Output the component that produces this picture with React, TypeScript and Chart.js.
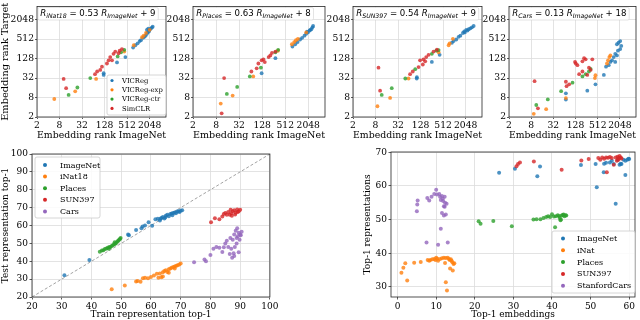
import React, { useEffect, useRef } from "react";
import { Chart, registerables } from "chart.js";

Chart.register(...registerables);

const SERIF = "'DejaVu Serif', serif";
const SANS = "'DejaVu Sans', sans-serif";

// ---------------- data ----------------
type Pt = [number, number];

const rankTicks = [2, 8, 32, 128, 512, 2048];
const methodNames = ["VICReg", "VICReg-exp", "VICReg-ctr", "SimCLR"];
const eqTargets = ["iNat18", "Places", "SUN397", "Cars"];
const eqSlopes = ["0.53", "0.63", "0.54", "0.13"];
const eqIntercepts = ["9", "8", "9", "18"];

// [ImageNet embedding rank, target embedding rank]
const inatVICReg: Pt[] = [[740, 280], [850, 330], [980, 378], [1110, 445], [1200, 475], [1360, 560], [1480, 600], [1600, 655], [1730, 750], [1810, 820], [1960, 880], [2048, 990], [2200, 1080], [2350, 1160], [2470, 1240], [1730, 990], [1880, 1080], [275, 97], [460, 142], [121, 45], [121, 40]];
const inatVICRegExp: Pt[] = [[5.8, 7.2], [21, 12.4], [76, 30], [430, 210], [770, 330], [1280, 585], [1420, 655], [1630, 790], [2048, 990]];
const inatVICRegCtr: Pt[] = [[14, 9.6], [24, 16.3], [53, 32], [286, 149], [352, 199], [430, 238]];
const inatSimCLR: Pt[] = [[10.3, 30], [12, 15.6], [71, 42], [81, 51], [98, 57], [109, 72], [148, 90], [164, 113], [181, 142], [222, 179], [247, 210], [304, 187], [324, 225], [372, 251], [202, 113]];

const placesVICReg: Pt[] = [[790, 302], [935, 355], [1080, 415], [1250, 497], [1420, 560], [1630, 655], [1810, 750], [2000, 820], [2220, 940], [2470, 1030], [2630, 1180], [2740, 1300], [2300, 990], [1900, 870], [124, 45], [284, 132]];
const placesVICRegExp: Pt[] = [[10.6, 5.2], [21.7, 9.2], [75, 36], [765, 355], [880, 415], [975, 475], [1810, 820], [330, 223], [1100, 520]];
const placesVICRegCtr: Pt[] = [[15.3, 10.3], [28.5, 17], [61, 36], [119, 67], [284, 199], [335, 238]];
const placesSimCLR: Pt[] = [[13, 32], [11.2, 2.6], [67, 51], [92, 64], [102, 90], [124, 113], [138, 121], [189, 142], [209, 160], [231, 191], [284, 210], [150, 100]];

const sunVICReg: Pt[] = [[880, 395], [975, 445], [1150, 497], [1330, 600], [1480, 655], [1730, 790], [1880, 880], [2130, 990], [2470, 1030], [2740, 1100], [3020, 1180], [3350, 1300], [1950, 820], [2300, 940], [102, 34], [101, 31], [256, 101], [413, 167]];
const sunVICRegExp: Pt[] = [[9, 4.3], [19.6, 7.8], [61, 31], [720, 330], [765, 378], [935, 522], [388, 199]];
const sunVICRegCtr: Pt[] = [[11.7, 9.6], [21.7, 15.6], [50, 31], [92, 60], [256, 179], [335, 225], [388, 234]];
const sunSimCLR: Pt[] = [[9.6, 67], [10.6, 13], [67, 42], [79, 51], [113, 70], [124, 113], [153, 121], [181, 142], [209, 167], [147, 84], [284, 210], [350, 240], [170, 105]];

const carsVICReg: Pt[] = [[1700, 355], [1880, 395], [2090, 445], [2230, 315], [2090, 251], [1810, 225], [1530, 179], [1390, 142], [1250, 113], [1130, 101], [1020, 80], [860, 72], [1530, 101], [1700, 160], [750, 40], [445, 20.5], [267, 13], [70, 10.8], [70, 6.9]];
const carsVICRegExp: Pt[] = [[9.4, 2.5], [20.4, 3.5], [70, 7.7], [445, 39], [430, 32], [915, 90], [975, 113], [1060, 142], [1130, 160]];
const carsVICRegCtr: Pt[] = [[11, 4.7], [22.6, 7], [52, 12.6], [106, 23], [197, 36], [241, 42], [296, 51], [328, 61]];
const carsSimCLR: Pt[] = [[9.9, 25.7], [12.2, 3.7], [70, 24.6], [73, 18], [86, 20.5], [124, 101], [130, 90], [144, 80], [197, 105], [218, 132], [241, 121], [365, 121], [296, 67], [328, 57], [267, 40], [160, 42], [197, 51]];

// bottom-left: [train top-1, test top-1]
const accTicks = [20, 30, 40, 50, 60, 70, 80, 90, 100];
const trainTestLabels = ["ImageNet", "iNat18", "Places", "SUN397", "Cars"];
const diagonal: Pt[] = [[20, 20], [100, 100]];
const ttImageNet: Pt[] = [[30.9, 32.1], [39.3, 40.7], [52.3, 55], [52.6, 54.5], [55, 57.5], [56.8, 58.5], [57.2, 59.5], [58, 60], [59.2, 61.8], [60.4, 59.8], [61.5, 63.5], [62.3, 63.8], [63, 62.8], [63.5, 64.2], [64, 64.8], [64.5, 63.9], [65, 65.5], [65.5, 66], [66, 65.2], [66.5, 66.5], [67, 66.7], [67.5, 67], [68, 67.3], [68.4, 66.8], [68.8, 67.8], [69.2, 68], [69.6, 67.5], [70, 68.3], [70.5, 68.5], [67.2, 65.8], [64.8, 64.5], [63.2, 63.8]];
const ttINat: Pt[] = [[46.8, 24.3], [51.2, 26.5], [55, 28.7], [55.5, 29], [56.5, 28.5], [57.3, 30.5], [58, 30.8], [59, 30.5], [60, 31.2], [61, 32], [62, 33], [63, 33.2], [63.5, 31], [64, 33.8], [64.5, 34.5], [65, 35], [65.5, 34], [66, 35.5], [66.5, 36], [67, 36.3], [67.5, 36.8], [68, 37], [68.5, 37.5], [69, 37.8], [69.5, 38.2], [70, 38.7], [64, 31.5], [62.5, 30.8], [66, 33.5], [68, 36]];
const ttPlaces: Pt[] = [[42.8, 45.3], [43.5, 46], [44, 46.2], [44.5, 46.8], [45, 47.2], [45.5, 47.5], [46, 48], [46.3, 47.8], [46.8, 48.5], [47.2, 49], [47.6, 49.5], [48, 49.8], [48.3, 50.2], [48.7, 51], [49, 51.5], [49.3, 52], [49.6, 52.5], [49.8, 53], [45.8, 47], [47.8, 50.6]];
const ttSUN: Pt[] = [[80.2, 61.8], [81.5, 64], [83, 63.5], [84, 65], [85, 67], [86, 67.5], [86.5, 66], [87, 66.8], [87.5, 68], [88, 68.5], [88.5, 67.2], [89, 69], [89.5, 68], [90, 68.8], [85.5, 66], [87.2, 65.5], [88.3, 66.2], [89.2, 67.5], [86.8, 68.8], [84.5, 66.5]];
const ttCars: Pt[] = [[74.5, 39.5], [78, 41], [78.5, 40], [80, 43.5], [81, 47], [82, 48], [83, 47.5], [84, 45.2], [85, 50], [85.5, 51.5], [86, 48], [86.5, 44], [87, 47], [87.3, 42], [87.5, 52], [88, 55], [88.2, 48], [88.5, 57], [88.8, 53], [89, 58.5], [89.2, 54], [89.5, 56], [89.8, 52], [90, 55], [90.2, 54.5], [88, 43], [87.8, 44.5], [89.5, 45], [86.7, 53], [84.5, 47.8], [88.8, 50], [90.5, 56.5]];

// bottom-right: [top-1 embeddings, top-1 representations]
const embTicks = [0, 10, 20, 30, 40, 50, 60];
const repTicks = [30, 40, 50, 60, 70];
const embRepLabels = ["ImageNet", "iNat", "Places", "SUN397", "StanfordCars"];
const erImageNet: Pt[] = [[26.3, 63.9], [30.4, 65.1], [36.2, 62.9], [36.9, 65.8], [47.5, 66.2], [51.3, 66.5], [51.6, 59.6], [53.4, 64.1], [53.5, 66.6], [54, 66.9], [55, 67], [55.5, 67.5], [56, 66.5], [56.5, 54.7], [57, 67.8], [57.5, 66.3], [58, 66.5], [58.5, 67.8], [59, 63.3], [59, 67.5], [59.5, 67.8], [60, 68], [59.8, 68.1], [57.8, 66.6]];
const erINat: Pt[] = [[1, 34.2], [1.5, 35.7], [2, 37], [2.5, 31.9], [4.3, 37.2], [6, 37.4], [7.8, 38], [8.2, 37.8], [8.5, 38], [9, 38.2], [9.5, 38.3], [10, 38.7], [10.3, 38.4], [10.5, 37.8], [11, 38.3], [11.5, 38.5], [12, 38.7], [12.3, 37.1], [12.5, 31.4], [12.8, 28.9], [13, 38.7], [13.3, 38.3], [13.6, 35.5], [13.8, 38.2], [14, 37.8], [14.2, 37.3], [14.3, 34.9], [14.5, 36.8], [14.7, 37], [12.5, 38.6], [13.5, 38], [9.8, 38]];
const erPlaces: Pt[] = [[21, 49.5], [21.5, 48.8], [24.8, 49.6], [29.6, 48], [35.2, 50], [36, 50.1], [37, 50.1], [37.8, 50.5], [38.5, 50.8], [39, 51], [39.5, 50.8], [40, 51.6], [40.5, 50.9], [40.8, 47.7], [41, 51], [41.5, 51.3], [42, 50.5], [42.3, 50], [42.5, 51.2], [42.8, 51.4], [43, 51.5], [43.2, 51], [43.5, 51.3], [43.7, 51.2], [42.2, 49.8], [41.8, 51.1]];
const erSUN: Pt[] = [[30.8, 65.9], [31.2, 66.5], [31.7, 67], [35.3, 67.3], [42.5, 64.8], [47.6, 67.6], [49.5, 68], [52, 68.3], [52.5, 67.8], [53, 68.5], [53.5, 68.1], [54, 68.5], [54.2, 64.1], [54.5, 68.4], [55, 68.6], [55.5, 68.3], [56, 66.3], [56.5, 68.5], [57, 68.7], [57.3, 68.3], [57.5, 68.9], [57.8, 68.5], [58, 68.2], [56.8, 67.5], [57.2, 67.8]];
const erCars: Pt[] = [[5, 52.5], [5.1, 54.5], [5.2, 55.7], [7.5, 43.2], [7.7, 56.4], [8.2, 55.7], [8.8, 56.8], [9.5, 57.6], [10, 58.9], [10.2, 57.5], [10.5, 42.5], [10.8, 57.6], [11, 56.8], [11.2, 47.3], [11.2, 55.8], [11.5, 52], [11.5, 57], [11.8, 55.5], [12, 54], [12, 51.2], [12.2, 56.8], [12.3, 55], [12.5, 51.5], [12.7, 54.7], [12.2, 53.8], [13, 43.2], [11.7, 56.2]];

// ---------------- styling ----------------
const TAB = ["rgba(31,119,180,0.8)", "rgba(255,127,14,0.8)", "rgba(44,160,44,0.8)", "rgba(214,39,40,0.8)", "rgba(148,103,189,0.8)"];
const TAB_SOLID = ["#1f77b4", "#ff7f0e", "#2ca02c", "#d62728", "#9467bd"];

interface Area { L: number; T: number; R: number; B: number }
interface Box { x: number; y: number; w: number; h: number }
interface AxisSpec { type: "linear" | "logarithmic"; min: number; max: number; ticks: number[]; title?: string; tickSize: number; titleSize: number; tickLen: number; pad: number; titlePad?: number }
interface LegendSpec { labels: string[]; colors: string[]; left: number; top: number; width: number; height: number; markerX: number; textX: number; row0: number; rowStep: number; fontSize: number; r: number }
interface PanelSpec { area: Area; box: Box; datasets: any[]; x: AxisSpec; y: AxisSpec; legend?: LegendSpec; eq?: number }

function toXY(a: Pt[]) {
  return a.map(([x, y]) => ({ x, y }));
}

function axisOptions(s: AxisSpec, fit: number, horizontal: boolean) {
  return {
    type: s.type,
    min: s.min,
    max: s.max,
    afterBuildTicks: (scale: any) => {
      scale.ticks = s.ticks.map((v) => ({ value: v }));
    },
    afterFit: (scale: any) => {
      if (horizontal) scale.height = fit;
      else scale.width = fit;
    },
    ticks: {
      autoSkip: false,
      maxRotation: 0,
      minRotation: 0,
      padding: s.pad,
      color: "#000",
      font: { family: SERIF, size: s.tickSize },
      callback: (v: any) => String(v),
    },
    grid: { color: "#dcdcdc", lineWidth: 0.8, tickLength: s.tickLen, tickColor: "#333", tickWidth: 0.8, drawTicks: true },
    border: { display: false },
    title: s.title
      ? { display: true, text: s.title, color: "#000", font: { family: SERIF, size: s.titleSize, lineHeight: 1.2 }, padding: { top: s.titlePad ?? 0, bottom: s.titlePad ?? 0 } }
      : { display: false },
  };
}

const framePlugin = {
  id: "frame",
  afterDatasetsDraw(chart: any) {
    const { ctx, chartArea: a } = chart;
    ctx.save();
    ctx.strokeStyle = "#262626";
    ctx.lineWidth = 0.8;
    ctx.strokeRect(a.left, a.top, a.right - a.left, a.bottom - a.top);
    ctx.restore();
  },
};

function roundRect(ctx: CanvasRenderingContext2D, x: number, y: number, w: number, h: number, r: number) {
  ctx.beginPath();
  ctx.moveTo(x + r, y);
  ctx.lineTo(x + w - r, y);
  ctx.quadraticCurveTo(x + w, y, x + w, y + r);
  ctx.lineTo(x + w, y + h - r);
  ctx.quadraticCurveTo(x + w, y + h, x + w - r, y + h);
  ctx.lineTo(x + r, y + h);
  ctx.quadraticCurveTo(x, y + h, x, y + h - r);
  ctx.lineTo(x, y + r);
  ctx.quadraticCurveTo(x, y, x + r, y);
  ctx.closePath();
}

function legendPlugin(spec: LegendSpec, box: Box) {
  return {
    id: "boxLegend",
    afterDraw(chart: any) {
      const ctx: CanvasRenderingContext2D = chart.ctx;
      ctx.save();
      roundRect(ctx, spec.left - box.x, spec.top - box.y, spec.width, spec.height, 2);
      ctx.fillStyle = "rgba(255,255,255,0.85)";
      ctx.fill();
      ctx.strokeStyle = "#cccccc";
      ctx.lineWidth = 0.8;
      ctx.stroke();
      ctx.font = `${spec.fontSize}px ${SERIF}`;
      ctx.textBaseline = "middle";
      ctx.textAlign = "left";
      spec.labels.forEach((lab, i) => {
        const cy = spec.row0 - box.y + i * spec.rowStep;
        ctx.beginPath();
        ctx.arc(spec.markerX - box.x, cy, spec.r, 0, Math.PI * 2);
        ctx.fillStyle = spec.colors[i];
        ctx.fill();
        ctx.fillStyle = "#000";
        ctx.fillText(lab, spec.textX - box.x, cy + 0.5);
      });
      ctx.restore();
    },
  };
}

function equationPlugin(idx: number) {
  return {
    id: "equation",
    afterDatasetsDraw(chart: any) {
      const { ctx, chartArea: a } = chart;
      const main = 8.6;
      const sub = 6.2;
      const parts = [
        { t: "R", f: `italic ${main}px ${SANS}`, dy: 0 },
        { t: eqTargets[idx], f: `italic ${sub}px ${SANS}`, dy: 2 },
        { t: ` = ${eqSlopes[idx]} `, f: `${main}px ${SANS}`, dy: 0 },
        { t: "R", f: `italic ${main}px ${SANS}`, dy: 0 },
        { t: "ImageNet", f: `italic ${sub}px ${SANS}`, dy: 2 },
        { t: ` + ${eqIntercepts[idx]}`, f: `${main}px ${SANS}`, dy: 0 },
      ];
      ctx.save();
      let w = 0;
      parts.forEach((p) => {
        ctx.font = p.f;
        w += ctx.measureText(p.t).width;
      });
      const bx = a.left + 1;
      const by = a.top + 1;
      roundRect(ctx, bx, by, w + 5, 12.5, 1.5);
      ctx.fillStyle = "#ffffff";
      ctx.fill();
      ctx.strokeStyle = "#d0d0d0";
      ctx.lineWidth = 0.6;
      ctx.stroke();
      let x = bx + 2.3;
      const base = a.top + 9.4;
      ctx.fillStyle = "#000";
      ctx.textBaseline = "alphabetic";
      ctx.textAlign = "left";
      parts.forEach((p) => {
        ctx.font = p.f;
        ctx.fillText(p.t, x, base + p.dy);
        x += ctx.measureText(p.t).width;
      });
      ctx.restore();
    },
  };
}

function buildChart(canvas: HTMLCanvasElement, p: PanelSpec) {
  const { area, box } = p;
  const yw = area.L - box.x;
  const xh = box.y + box.h - area.B;
  const padTop = area.T - box.y;
  const padRight = box.x + box.w - area.R;
  const plugins: any[] = [framePlugin];
  if (p.eq !== undefined) plugins.push(equationPlugin(p.eq));
  if (p.legend) plugins.push(legendPlugin(p.legend, box));
  return new Chart(canvas, {
    type: "scatter",
    data: { datasets: p.datasets },
    options: {
      animation: false,
      responsive: false,
      events: [],
      layout: { padding: { top: padTop, right: padRight, left: 0, bottom: 0 } },
      plugins: { legend: { display: false }, tooltip: { enabled: false } },
      scales: {
        x: axisOptions(p.x, xh, true) as any,
        y: axisOptions(p.y, yw, false) as any,
      },
    },
    plugins,
  });
}

function Panel({ p }: { p: PanelSpec }) {
  const ref = useRef<HTMLCanvasElement>(null);
  useEffect(() => {
    const c = buildChart(ref.current!, p);
    return () => c.destroy();
  }, []);
  return (
    <canvas
      ref={ref}
      width={p.box.w}
      height={p.box.h}
      style={{ position: "absolute", left: p.box.x, top: p.box.y, width: p.box.w, height: p.box.h }}
    />
  );
}

// ---------------- panels ----------------
const topSeries = [
  [inatVICReg, inatVICRegExp, inatVICRegCtr, inatSimCLR],
  [placesVICReg, placesVICRegExp, placesVICRegCtr, placesSimCLR],
  [sunVICReg, sunVICRegExp, sunVICRegCtr, sunSimCLR],
  [carsVICReg, carsVICRegExp, carsVICRegCtr, carsSimCLR],
];
const topAreas: Area[] = [
  { L: 37, T: 2, R: 167, B: 117 },
  { L: 193, T: 2, R: 326, B: 117 },
  { L: 353, T: 2, R: 483, B: 117 },
  { L: 509, T: 2, R: 637, B: 117 },
];
const topBoxes: Box[] = [
  { x: 0, y: 0, w: 170, h: 141 },
  { x: 162, y: 0, w: 167, h: 141 },
  { x: 322, y: 0, w: 164, h: 141 },
  { x: 478, y: 0, w: 162, h: 141 },
];

const topPanels: PanelSpec[] = topSeries.map((series, k) => ({
  area: topAreas[k],
  box: topBoxes[k],
  eq: k,
  datasets: methodNames.map((name, i) => ({
    label: name,
    data: toXY(series[i]),
    backgroundColor: TAB[i],
    borderWidth: 0,
    pointRadius: 1.9,
    order: methodNames.length - i,
  })),
  x: { type: "logarithmic", min: 2, max: 5600, ticks: rankTicks, title: "Embedding rank ImageNet", tickSize: 9.2, titleSize: 9.8, tickLen: 2, pad: 1 },
  y: { type: "logarithmic", min: 2, max: 5200, ticks: rankTicks, title: k === 0 ? "Embedding rank Target" : undefined, tickSize: 9.2, titleSize: 9.8, tickLen: 2, pad: 1 },
  legend:
    k === 0
      ? { labels: methodNames, colors: TAB_SOLID.slice(0, 4), left: 107, top: 75, width: 59, height: 40, markerX: 112, textX: 122, row0: 80.5, rowStep: 9.3, fontSize: 6.8, r: 1.6 }
      : undefined,
}));

const bottomLeft: PanelSpec = {
  area: { L: 32, T: 154, R: 276, B: 297 },
  box: { x: 0, y: 145, w: 280, h: 175 },
  datasets: [
    ...[ttImageNet, ttINat, ttPlaces, ttSUN, ttCars].map((d, i) => ({
      label: trainTestLabels[i],
      data: toXY(d),
      backgroundColor: TAB[i],
      borderWidth: 0,
      pointRadius: 2,
      order: 6 - i,
    })),
    {
      label: "y = x",
      data: toXY(diagonal),
      showLine: true,
      borderColor: "#8c8c8c",
      borderWidth: 0.8,
      borderDash: [3, 2],
      pointRadius: 0,
      order: 10,
    },
  ],
  x: { type: "linear", min: 20, max: 100, ticks: accTicks, title: "Train representation top-1", tickSize: 9, titleSize: 9, tickLen: 2.5, pad: 1.5 },
  y: { type: "linear", min: 20, max: 100, ticks: accTicks, title: "Test representation top-1", tickSize: 9, titleSize: 9, tickLen: 2.5, pad: 1.5 },
  legend: { labels: trainTestLabels, colors: TAB_SOLID, left: 35, top: 157, width: 65, height: 61, markerX: 45, textX: 60, row0: 165, rowStep: 11.6, fontSize: 8, r: 2 },
};

const bottomRight: PanelSpec = {
  area: { L: 391, T: 152, R: 635, B: 297 },
  box: { x: 362, y: 145, w: 278, h: 175 },
  datasets: [erImageNet, erINat, erPlaces, erSUN, erCars].map((d, i) => ({
    label: embRepLabels[i],
    data: toXY(d),
    backgroundColor: TAB[i],
    borderWidth: 0,
    pointRadius: 2,
    order: 6 - i,
  })),
  x: { type: "linear", min: -1.7, max: 61.5, ticks: embTicks, title: "Top-1 embeddings", tickSize: 9, titleSize: 9, tickLen: 2.5, pad: 1.5 },
  y: { type: "linear", min: 27, max: 70.1, ticks: repTicks, title: "Top-1 representations", tickSize: 9, titleSize: 9, tickLen: 2.5, pad: 1.5 },
  legend: { labels: embRepLabels, colors: TAB_SOLID, left: 552, top: 231, width: 83, height: 62, markerX: 563, textX: 577, row0: 238.5, rowStep: 11.8, fontSize: 8, r: 2 },
};

const panels = [...topPanels, bottomLeft, bottomRight];

export default function App() {
  return (
    <div style={{ position: "absolute", left: 0, top: 0, width: 640, height: 320, background: "#fff", overflow: "hidden" }}>
      {panels.map((p, i) => (
        <Panel key={i} p={p} />
      ))}
    </div>
  );
}
